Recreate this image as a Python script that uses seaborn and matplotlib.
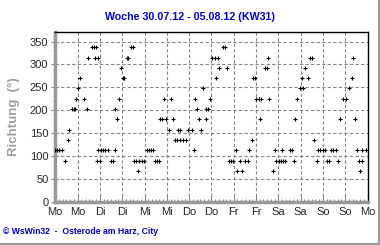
import matplotlib
matplotlib.use("Agg")
import matplotlib.pyplot as plt
import seaborn as sns
import pandas as pd
from matplotlib.ticker import MultipleLocator
from matplotlib.lines import Line2D

# ---- data: hours since Monday 00:00 and wind direction (deg) ----
mo_hours = [0, 1, 2, 3.5, 5.4, 6.7, 7.5, 8.8, 9.8, 10.8, 11, 12.4, 13.3, 15.5, 16.8,
            17.5, 19.5, 20.8, 21.5, 22.0, 22.8, 22.3, 24.0]
mo_dir = [112.5, 112.5, 112.5, 112.5, 90, 135, 157.5, 202.5, 202.5, 202.5, 225, 247.5, 270, 225, 202.5,
          315, 337.5, 337.5, 315, 337.5, 315, 90, 90]

di_hours = [23.2, 24.6, 25.8, 27.0, 28.2, 29.8, 30.9, 32.0, 32.2, 33.4, 34.4, 35.6, 36.4, 37.2,
            38.6, 39.2, 40.6, 41.6, 42.2, 43.4, 44.6, 45.2, 46.4, 47.6, 49.2, 50.4, 51.6, 52.8,
            53.4, 54.6, 55.8]
di_dir = [112.5, 112.5, 112.5, 112.5, 112.5, 90, 90, 112.5, 202.5, 180, 225, 292.5, 270, 270,
          315, 315, 337.5, 337.5, 90, 90, 67.5, 90, 90, 90, 112.5, 112.5, 112.5, 112.5,
          90, 90, 90]

mi_hours = [56.4, 57.5, 58.6, 59.6, 61.2, 62.3, 63.2, 64.2, 65.7, 65.8, 67.2, 67.3, 68.7, 70.2,
            71.3, 73.4, 74.4, 75.4, 76.3, 77.4, 78.3, 79.4, 80.9, 81.2, 82.4, 83.3]
mi_dir = [180, 180, 225, 180, 157.5, 225, 180, 135, 135, 157.5, 135, 157.5, 135, 135,
          157.5, 157.5, 112.5, 225, 202.5, 180, 157.5, 247.5, 180, 202.5, 202.5, 225]

do_hours = [84.3, 85.9, 86.6, 87.6, 88.3, 90.4, 91.4, 92.6, 93.3, 94.4, 95.5, 97.2, 98.0,
            99.2, 100.4, 102.3, 103.5, 104.4, 105.6]
do_dir = [315, 315, 270, 315, 292.5, 337.5, 337.5, 292.5, 90, 90, 90, 112.5, 67.5,
          90, 67.5, 90, 90, 112.5, 135]

fr_hours = [106.4, 107.6, 108.2, 109.4, 110.4, 110.6, 112.8, 113.8, 114.7, 115.2, 117.4, 118.1,
            119.0, 120.2, 121.4, 122.2, 122.6, 123.8, 126.4, 127.5, 128.6, 129.2, 130.3, 131.8,
            132.5, 133.3, 134.5, 136.0, 137.3, 138.4, 139.4, 140.6]
fr_dir = [270, 270, 225, 225, 180, 225, 292.5, 292.5, 315, 225, 67.5, 112.5,
          90, 90, 90, 112.5, 90, 90, 112.5, 112.5, 90, 180, 225, 247.5,
          270, 247.5, 292.5, 270, 315, 315, 135, 90]

sa_hours = [141.4, 142.7, 144.0, 145.3, 146.2, 147.4, 148.3, 149.6, 150.9, 152.3, 153.2, 154.8,
            156.4, 158.3, 159.4, 160.3, 161.5, 162.5, 163.4, 164.2, 165.0, 165.3, 167.0]
sa_dir = [112.5, 112.5, 112.5, 112.5, 90, 90, 112.5, 112.5, 112.5, 90, 180, 225,
          225, 247.5, 270, 315, 180, 112.5, 90, 67.5, 112.5, 90, 112.5]

tick_labels = ["Mo", "Mo", "Di", "Di", "Mi", "Mi", "Do", "Do", "Fr", "Fr",
               "Sa", "Sa", "So", "So", "Mo"]
title = "Woche 30.07.12 - 05.08.12 (KW31)"
ylabel = "Richtung  (°)"
footer = "© WsWin32  -  Osterode am Harz, City"

df = pd.DataFrame({
    "hours": mo_hours + di_hours + mi_hours + do_hours + fr_hours + sa_hours,
    "dir": mo_dir + di_dir + mi_dir + do_dir + fr_dir + sa_dir,
})

sns.set_style("white")
plt.rcParams["font.family"] = ["Liberation Sans", "DejaVu Sans"]

fig = plt.figure(figsize=(3.8, 2.45), dpi=100)
ax = fig.add_axes([55.3 / 380, 1 - 201.7 / 245, (367.5 - 55.3) / 380, (201.7 - 32) / 245])

sns.scatterplot(data=df, x="hours", y="dir", ax=ax, marker="+", s=5,
                color="black", linewidth=0.8, legend=False, zorder=3)

ax.set_xlim(0, 168)
ax.set_ylim(0, 371)
ax.set_xticks(range(0, 169, 12))
ax.set_xticklabels(tick_labels, fontsize=8)
ax.xaxis.set_minor_locator(MultipleLocator(2))
ax.set_yticks(range(0, 351, 50))
ax.set_yticklabels([str(v) for v in range(0, 351, 50)], fontsize=8)
ax.yaxis.set_minor_locator(MultipleLocator(10))

ax.tick_params(axis="x", which="major", direction="in", length=4, width=0.8,
               color="#888888", pad=4, bottom=True)
ax.tick_params(axis="x", which="minor", direction="in", length=2.5, width=0.8,
               color="#888888", bottom=True)
ax.tick_params(axis="y", which="major", direction="out", length=3, width=0.8,
               color="#888888", pad=2, left=True)
ax.tick_params(axis="y", which="minor", direction="out", length=1.5, width=0.6,
               color="#888888", left=True)

ax.grid(True, which="major", color="#888888", linestyle=(0, (3, 2)), linewidth=0.8)
ax.set_axisbelow(True)

for side in ["left", "bottom"]:
    ax.spines[side].set_color("#999999")
    ax.spines[side].set_linewidth(2.5)
for side in ["top", "right"]:
    ax.spines[side].set_color("black")
    ax.spines[side].set_linewidth(1.0)

ax.set_xlabel("")
ax.set_ylabel(ylabel, fontsize=9.5, color="#a0a0a0", fontweight="bold", labelpad=7)

fig.text(0.5, 1 - 17 / 245, title, ha="center", va="center", color="#0000DD",
         fontsize=7.7, fontweight="bold")
fig.text(3 / 380, 1 - 231 / 245, footer, ha="left", va="center", color="#0000CC",
         fontsize=6.2, fontweight="bold")

# grey frame shadow on right and bottom
fig.add_artist(Line2D([378.5 / 380, 378.5 / 380], [0, 1], color="#999999", lw=1.5,
                      transform=fig.transFigure))
fig.add_artist(Line2D([0, 1], [1.5 / 245, 1.5 / 245], color="#999999", lw=1.5,
                      transform=fig.transFigure))

fig.savefig("out.png", dpi=100, facecolor="white")
